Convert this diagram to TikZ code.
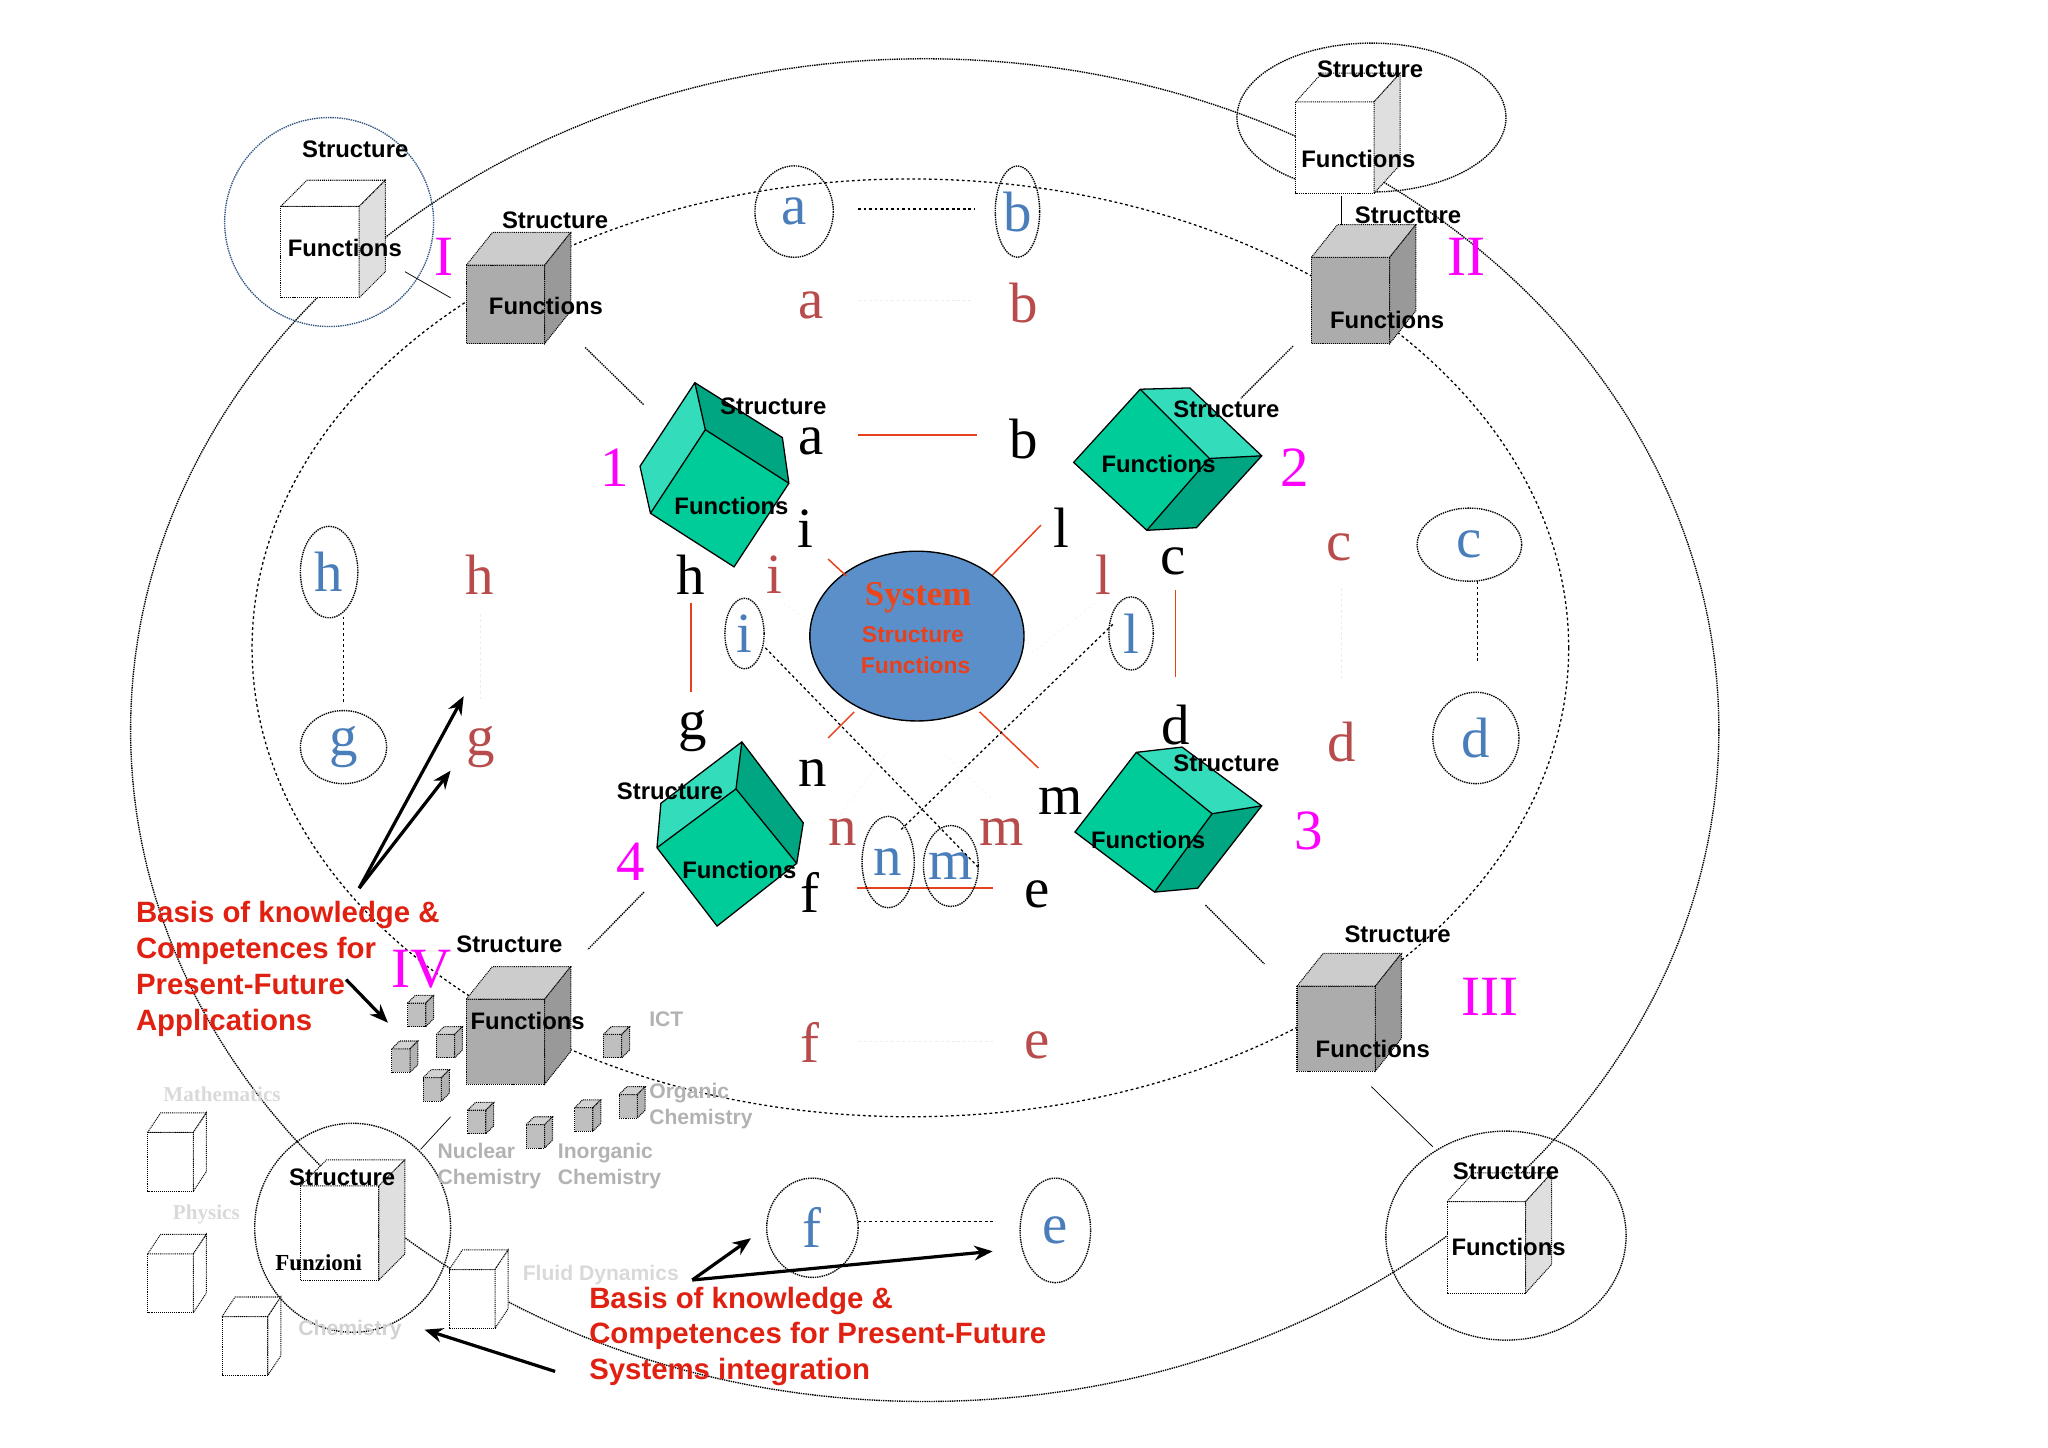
\documentclass[tikz,border=0pt]{standalone}
\usepackage{fontspec}
\setmainfont{Liberation Serif}
\setsansfont{Liberation Sans}
\usetikzlibrary{arrows.meta,shapes.geometric}
\definecolor{tealA}{HTML}{00CC99}
\definecolor{tealL}{HTML}{33DDBB}
\definecolor{tealD}{HTML}{00A581}
\definecolor{rl}{HTML}{B84C4C}
\definecolor{bl}{HTML}{4A7EBB}
\definecolor{rline}{HTML}{E8401C}
\definecolor{rtext}{HTML}{E02010}
\definecolor{mag}{HTML}{FF00FF}
\definecolor{sys}{HTML}{5B8FC9}
\newcommand\mycube[9]{% x y w h dx dy front top side
  \filldraw[draw=black,densely dotted,line width=1.1pt,fill=#7] (#1,#2) rectangle ++(#3,#4);
  \filldraw[draw=black,densely dotted,line width=1.1pt,fill=#8] (#1,#2) -- ++(#5,#6) -- ++(#3,0) -- ++(-#5,-#6) -- cycle;
  \filldraw[draw=black,densely dotted,line width=1.1pt,fill=#9] (#1+#3,#2) -- ++(#5,#6) -- ++(0,#4) -- ++(-#5,-#6) -- cycle;}
\begin{document}
\begin{tikzpicture}[x=0.05cm,y=-0.05cm,
  lab/.style={font=\sffamily\bfseries\fontsize{26}{28}\selectfont,inner sep=0pt},
  big/.style={font=\fontsize{62}{62}\selectfont,inner sep=0pt},
  num/.style={font=\fontsize{62}{62}\selectfont,text=mag,inner sep=0pt},
  gt/.style={font=\sffamily\bfseries\fontsize{23}{29}\selectfont,text=gray!60,align=left,inner sep=0pt},
  red/.style={font=\sffamily\bfseries\fontsize{32}{39}\selectfont,text=rtext,align=left,inner sep=0pt},
  arr/.style={line width=3.5pt,-{Stealth[length=20pt,width=16pt]}},
  dt/.style={densely dotted,line width=1.5pt},
  ds/.style={dashed,line width=1.4pt},
  tf/.style={draw=black,line width=1.4pt}]
\useasboundingbox (0,0) rectangle (1568,1108);
% ellipses
\draw[dt] (708,559) ellipse [x radius=608,y radius=514];
\draw[ds] (697,496) ellipse [x radius=504,y radius=359];
\draw[dt,draw=bl!70!black] (252,170) circle [radius=80];
\draw[dt] (1050,90) ellipse [x radius=103,y radius=57];
\draw[dt] (1153,946) ellipse [x radius=92,y radius=80];
\draw[dt] (270,940) ellipse [x radius=75,y radius=80];
% gray cubes
\mycube{357}{203}{60}{60}{20}{-25}{gray!65}{gray!40}{gray!80}
\mycube{1004}{197}{60}{66}{20}{-25}{gray!65}{gray!40}{gray!80}
\mycube{993}{755}{60}{65}{20}{-25}{gray!65}{gray!40}{gray!80}
\mycube{357}{765}{60}{65}{20}{-25}{gray!65}{gray!40}{gray!80}
% transparent cubes
\mycube{215}{158}{60}{70}{20}{-20}{white}{white}{gray!25}
\mycube{992}{78}{60}{70}{20}{-22}{white}{white}{gray!25}
\mycube{1108}{920}{60}{70}{20}{-22}{white}{white}{gray!25}
\mycube{230}{908}{60}{72}{20}{-20}{white}{white}{gray!25}
% dotted small cubes bottom left
\mycube{113}{867}{35}{45}{10}{-15}{white}{white}{white}
\mycube{113}{960}{35}{45}{10}{-15}{white}{white}{white}
\mycube{170}{1008}{35}{45}{10}{-15}{white}{white}{white}
\mycube{344}{972}{35}{45}{10}{-15}{white}{white}{white}
% small gray cubes
\foreach \px/\py in {312/768,334/792,300/803,324/825,358/850,403/861,440/848,474/838,462/792}
  \mycube{\px}{\py}{14}{18}{6}{-6}{gray!50}{gray!35}{gray!60};
% teal cubes
\fill[tealA] (540,329)--(604,370)--(562,434)--(498,393)--cycle;
\fill[tealL] (532,293)--(540,329)--(498,393)--(490,357)--cycle;
\fill[tealD] (532,293)--(599,335)--(604,370)--(540,329)--cycle;
\draw[tf] (532,293)--(599,335)--(604,370)--(562,434)--(498,393)--(490,357)--cycle (540,329)--(532,293) (540,329)--(604,370) (540,329)--(498,393);
\fill[tealA] (822,354)--(873,298)--(926,351)--(878,406)--cycle;
\fill[tealL] (873,298)--(911,297)--(966,349)--(926,351)--cycle;
\fill[tealD] (926,351)--(966,349)--(916,404)--(878,406)--cycle;
\draw[tf] (822,354)--(873,298)--(911,297)--(966,349)--(916,404)--(878,406)--cycle (873,298)--(926,351)--(878,406) (926,351)--(966,349);
\fill[tealA] (870,576)--(928,623)--(884,683)--(823,637)--cycle;
\fill[tealL] (870,576)--(905,572)--(966,617)--(928,623)--cycle;
\fill[tealD] (928,623)--(966,617)--(917,680)--(884,683)--cycle;
\draw[tf] (870,576)--(905,572)--(966,617)--(917,680)--(884,683)--(823,637)--cycle (870,576)--(928,623)--(884,683) (928,623)--(966,617);
\fill[tealA] (563.5,604)--(610,661)--(549,709)--(503,649)--cycle;
\fill[tealL] (506,615)--(568,568)--(563.5,604)--(503,649)--cycle;
\fill[tealD] (568,568)--(615,630)--(610,661)--(563.5,604)--cycle;
\draw[tf] (568,568)--(615,630)--(610,661)--(549,709)--(503,649)--(506,615)--cycle (568,568)--(563.5,604)--(610,661) (563.5,604)--(503,649);
% cube labels
\node[lab] at (425,169) {Structure}; \node[lab] at (418,234) {Functions};
\node[lab] at (1078,165) {Structure}; \node[lab] at (1062,245) {Functions};
\node[lab] at (1070,715) {Structure}; \node[lab] at (1051,803) {Functions};
\node[lab] at (390,723) {Structure}; \node[lab] at (404,782) {Functions};
\node[lab] at (272,114) {Structure}; \node[lab] at (264,190) {Functions};
\node[lab] at (1049,53) {Structure}; \node[lab] at (1040,122) {Functions};
\node[lab] at (1153,897) {Structure}; \node[lab] at (1155,955) {Functions};
\node[lab] at (262,901) {Structure};
\node[font=\bfseries\fontsize{25}{25}\selectfont,inner sep=0pt] at (244,967) {Funzioni};
\node[lab] at (592,311) {Structure}; \node[lab] at (560,387) {Functions};
\node[lab] at (939,313) {Structure}; \node[lab] at (887,355) {Functions};
\node[lab] at (939,584) {Structure}; \node[lab] at (879,643) {Functions};
\node[lab] at (513,606) {Structure}; \node[lab] at (566,666) {Functions};
% numerals
\node[num] at (340,197) {I}; \node[num] at (1123,197) {II};
\node[num] at (1141,763) {III}; \node[num] at (323,742) {IV};
\node[num] at (471,358) {1}; \node[num] at (991,358) {2};
\node[num] at (1002,636) {3}; \node[num] at (483,660) {4};
% connectors
\draw[dt] (448,266)--(493,310);
\draw[dt] (990,265)--(950,305);
\draw[dt] (923,693)--(968,738);
\draw[dt] (493,683)--(450,727);
\draw[thick] (310,208)--(345,228);
\draw[thick] (1027,150)--(1027,172);
\draw[thick] (1050,832)--(1097,878);
\draw[thick] (345,855)--(322,880);
% system
\node[draw=black,line width=1.5pt,fill=sys,ellipse,minimum width=8.2cm,minimum height=6.5cm,inner sep=0pt] (sys) at (702,487) {};
\node[font=\bfseries\fontsize{38}{38}\selectfont,text=rline!90!orange,inner sep=0pt] at (703,458) {System};
\node[font=\sffamily\bfseries\fontsize{25}{25}\selectfont,text=rline,inner sep=0pt] at (699,486) {Structure};
\node[font=\sffamily\bfseries\fontsize{25}{25}\selectfont,text=rline,inner sep=0pt] at (701,509) {Functions};
% red lines
\begin{scope}[rline,line width=1.6pt]
\draw (657,333)--(748,333); \draw (529,462)--(529,530); \draw (900,452)--(900,518);
\draw (656,680)--(760,680); \draw (634,428)--(648,441); \draw (797,402)--(760,440);
\draw (654,545)--(634,565); \draw (750,545)--(795,588);
\end{scope}
% faint lines
\begin{scope}[gray!15,dashed]
\draw (657,230)--(745,230); \draw (368,470)--(368,535); \draw (1027,450)--(1027,520);
\draw (657,797)--(760,797); \draw (600,462)--(620,475); \draw (838,462)--(790,500);
\draw (680,575)--(640,628); \draw (720,575)--(760,612);
\end{scope}
% black letters
\foreach \t/\px/\py in {a/621/338,b/784/336,i/617/405,l/813/404,h/529/440,c/898/430,g/530/560,d/900/555,n/622/592,m/812/613,f/620/683,e/794/685}
  \node[big] at (\px,\py) {\t};
% red letters
\foreach \t/\px/\py in {a/621/234,b/784/232,c/1025/419,d/1027/568,f/620/798,e/794/800,h/367/440,g/368/572,i/593/440,l/845/440,n/645/637,m/767/637}
  \node[big,text=rl] at (\px,\py) {\t};
% blue letters
\foreach \t/\px/\py/\rx/\ry in {a/608/162/30/35,b/779/162/17/35,c/1125/417/40/28,d/1130/565/33/35,f/622/940/35/38,e/808/942/27/40,h/252/438/22/35,g/263/572/33/28,i/570/485/15/27,l/866/485/17/28,n/680/660/20/35,m/728/663/21/31}
  {\node[big,text=bl] at (\px,\py) {\t};
   \draw[dt] (\px,\py) ellipse [x radius=\rx,y radius=\ry];}
% dashed blue links
\draw[ds] (657,160)--(746,160);
\draw[ds] (263,472)--(263,538);
\draw[ds] (1131,445)--(1131,508);
\draw[ds] (657,935)--(760,935);
\draw[ds] (586,496)--(750,665);
\draw[ds] (852,478)--(690,635);
% gray texts
\node[gt,anchor=west] at (497,780) {ICT};
\node[gt,anchor=north west] at (497,829) {Organic\\Chemistry};
\node[gt,anchor=north west] at (335,875) {Nuclear\\Chemistry};
\node[gt,anchor=north west] at (427,875) {Inorganic\\Chemistry};
\node[font=\bfseries\fontsize{23}{23}\selectfont,text=gray!30,inner sep=0pt] at (170,838) {Mathematics};
\node[font=\bfseries\fontsize{23}{23}\selectfont,text=gray!30,inner sep=0pt] at (158,930) {Physics};
\node[font=\sffamily\bfseries\fontsize{23}{23}\selectfont,text=gray!35,inner sep=0pt] at (268,1018) {Chemistry};
\node[font=\sffamily\bfseries\fontsize{23}{23}\selectfont,text=gray!30,inner sep=0pt] at (460,976) {Fluid Dynamics};
% red texts and arrows
\node[red,anchor=north west] (r1) at (104,690) {Basis of knowledge \&\\Competences for\\Present-Future\\Applications};
\node[red,anchor=north west] (r2) at (451,985) {Basis of knowledge \&\\Competences for Present-Future\\Systems integration};
\coordinate (p1) at (275,680);
\draw[arr] (p1)--(355,533); \draw[arr] (p1)--(345,590);
\draw[arr] (265,750)--(297,783);
\coordinate (p2) at (530,980);
\draw[arr] (p2)--(575,948); \draw[arr] (p2)--(760,958);
\draw[arr] (425,1050)--(325,1018);
\end{tikzpicture}
\end{document}
